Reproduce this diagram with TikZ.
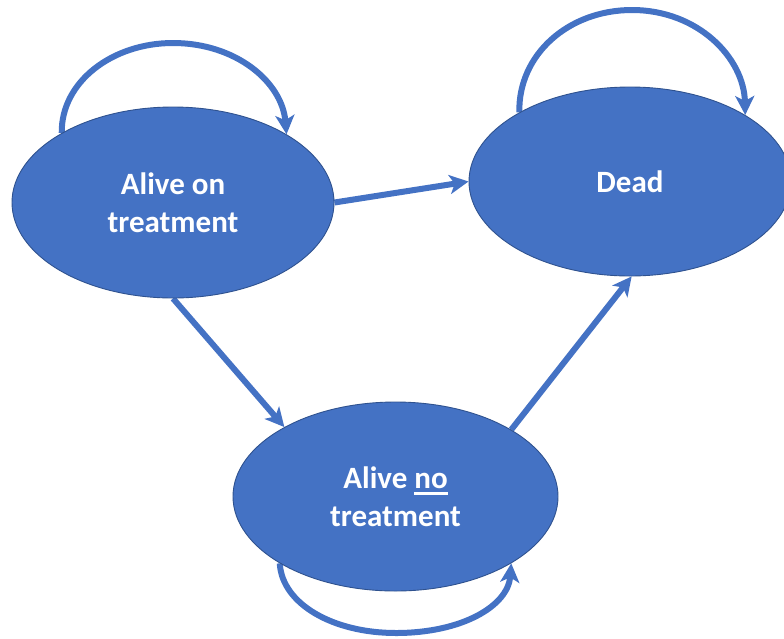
\documentclass[tikz,border=0pt]{standalone}
\usepackage{fontspec}
\setmainfont{Carlito}
\usetikzlibrary{arrows.meta,shapes.geometric}
\definecolor{nodeblue}{HTML}{4472C4}
\definecolor{nodeedge}{HTML}{2F528F}
\pgfdeclarelayer{bg}
\pgfsetlayers{bg,main}
\newcommand\myul[1]{\setbox0=\hbox{#1}\rlap{\rule[-6.5pt]{\wd0}{2.6pt}}#1}
\begin{document}
\begin{tikzpicture}[x=1pt,y=-1pt,
  state/.style={ellipse, fill=nodeblue, draw=nodeedge, line width=0.9pt, inner sep=0pt,
    text=white, font=\fontsize{31}{38}\selectfont\bfseries, align=center},
  flow/.style={draw=nodeblue, line width=6pt,
    -{Stealth[length=19pt,width=19pt,inset=5pt]}}]
\clip (0,0) rectangle (784,638);
\node[state, minimum width=322pt, minimum height=191pt] (A) at (173,202.5) {Alive on\\treatment};
\node[state, minimum width=322pt, minimum height=189pt] (D) at (630,181.5) {Dead};
\node[state, minimum width=325pt, minimum height=189pt] (N) at (395.5,496.5) {Alive \myul{no}\\treatment};
\begin{pgfonlayer}{bg}
\draw[flow] (A.east) -- (D.west);
\draw[flow] (A.-90) -- (N.148);
\draw[flow] (N.30) -- (D.-89);
% self loops
\draw[flow] (A.148) .. controls (61,82) and (112,43) .. (173,43)
  .. controls (236,43) and (282,82) .. (A.31);
\draw[flow] (D.148) .. controls (518,55) and (568,10) .. (632,10)
  .. controls (698,10) and (744,58) .. (D.30);
\draw[flow] (N.210) .. controls (282,604) and (333,633) .. (396,633)
  .. controls (462,633) and (508,606) .. (N.330);
\end{pgfonlayer}
\end{tikzpicture}
\end{document}
